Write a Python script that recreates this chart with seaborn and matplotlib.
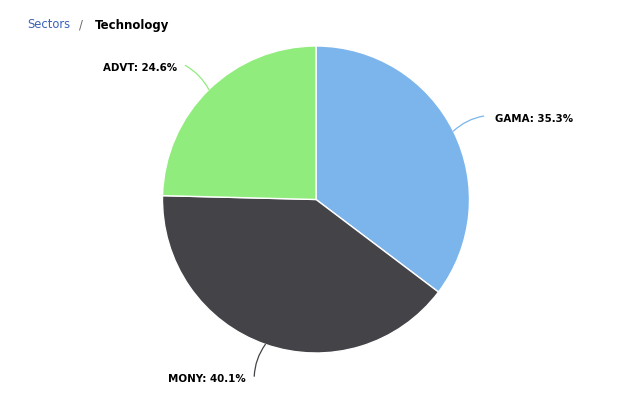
import numpy as np
import matplotlib
matplotlib.use("Agg")
import matplotlib.pyplot as plt
import seaborn as sns

sns.set_theme(style="white")
plt.rcParams['font.family'] = ['DejaVu Sans']

labels = ["GAMA", "MONY", "ADVT"]
shares = [35.3, 40.1, 24.6]
colors = ["#7cb5ec", "#434348", "#90ed7d"]
crumb_parent = "Sectors"
crumb_current = "Technology"

W, H = 627, 393
fig = plt.figure(figsize=(W / 100, H / 100), dpi=100)
cx, cy, r = 316, 199.5, 153.5
ax = fig.add_axes([(cx - r) / W, (H - cy - r) / H, 2 * r / W, 2 * r / H])
wedges, _ = ax.pie(shares, colors=colors, startangle=90, counterclock=False,
                   radius=1, wedgeprops=dict(edgecolor="white", linewidth=1))
ax.set_xlim(-1, 1)
ax.set_ylim(-1, 1)
ax.set_aspect("equal")
ax.axis("off")

px = 1 / r  # one pixel in data units
for w, lab, val, col in zip(wedges, labels, shares, colors):
    ang = np.deg2rad((w.theta1 + w.theta2) / 2)
    ex, ey = np.cos(ang), np.sin(ang)
    tx, ty = 1.22 * ex, 1.22 * ey
    right = ex >= 0
    ax.annotate("", xy=(ex, ey), xytext=(tx, ty), annotation_clip=False,
                arrowprops=dict(arrowstyle="-", color=col, lw=0.9,
                                connectionstyle="arc3,rad=%s" % (0.15 if right else -0.15),
                                shrinkA=0, shrinkB=0))
    ax.text(tx + (11 * px if right else -8 * px), ty - 2.5 * px, f"{lab}: {val}%",
            ha="left" if right else "right", va="center", fontsize=7.4,
            fontweight="bold", color="black", clip_on=False)

fig.text(27 / W, 1 - 25 / H, crumb_parent, color="#3a62b8", fontsize=8.3, va="center")
fig.text(79 / W, 1 - 25 / H, "/", color="#666666", fontsize=8.3, va="center")
fig.text(95 / W, 1 - 25 / H, crumb_current, color="black", fontsize=8.5,
         fontweight="bold", va="center")

fig.savefig("out.png", dpi=100, facecolor="white")
